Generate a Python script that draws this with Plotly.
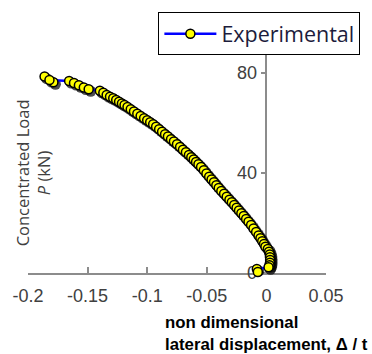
import plotly.graph_objects as go

# Load-displacement test record: non-dimensional lateral displacement (Δ/t) vs load P (kN)
disp = [
    -0.1861, -0.1787, -0.1820,
    -0.1655, -0.1614, -0.1573, -0.1532, -0.1491,
    -0.1397, -0.1368, -0.1340, -0.1312, -0.1285, -0.1260, -0.1236, -0.1212,
    -0.1190, -0.1165, -0.1138, -0.1111, -0.1083, -0.1055, -0.1026, -0.1000,
    -0.0975, -0.0950, -0.0925, -0.0900, -0.0875, -0.0850, -0.0826, -0.0800,
    -0.0776, -0.0750, -0.0724, -0.0700, -0.0675, -0.0650, -0.0630, -0.0610,
    -0.0590, -0.0570, -0.0548, -0.0525, -0.0503, -0.0480, -0.0460, -0.0440,
    -0.0420, -0.0400, -0.0378, -0.0355, -0.0333, -0.0310, -0.0290, -0.0270,
    -0.0250, -0.0230, -0.0210, -0.0190, -0.0170, -0.0150, -0.0128, -0.0108,
    -0.0086, -0.0066, -0.0050, -0.0035, -0.0020, -0.0008,
    0.0012, 0.0022, 0.0028, 0.0030, 0.0031, 0.0030, 0.0026, 0.0018,
    -0.0080, -0.0072, -0.0055,
]
load = [
    78.6, 76.3, 77.2,
    76.8, 76.0, 75.1, 74.2, 73.5,
    72.9, 72.1, 71.2, 70.5, 69.9, 69.2, 68.5, 67.8,
    67.2, 66.4, 65.5, 64.6, 63.7, 62.8, 61.9, 61.1,
    60.3, 59.5, 58.5, 57.5, 56.5, 55.5, 54.6, 53.5,
    52.6, 51.5, 50.4, 49.3, 48.3, 47.2, 46.3, 45.4,
    44.4, 43.5, 42.4, 41.1, 39.8, 38.5, 37.4, 36.3,
    35.1, 34.0, 32.8, 31.7, 30.5, 29.3, 28.3, 27.2,
    26.1, 25.0, 23.9, 22.8, 21.6, 20.5, 19.2, 17.8,
    16.4, 15.0, 13.9, 12.7, 11.6, 10.5,
    9.6, 8.5, 7.4, 6.3, 5.2, 4.1, 3.1, 2.3,
    1.6, 0.4, -0.4,
]

x_ticks = [-0.2, -0.15, -0.1, -0.05, 0, 0.05]
x_tick_text = ["-0.2", "-0.15", "-0.1", "-0.05", "0", "0.05"]
y_ticks = [0, 40, 80]
y_tick_text = ["0", "40", "80"]

X_RANGE = [-0.2, 0.05]
Y_RANGE = [0, 90]
# drop shadow under the markers: same data on a hidden pair of axes whose
# ranges are nudged so the points land ~2 px right and ~2 px lower
SHADOW_DX = 0.0017
SHADOW_DY = 0.8

axis_grey = "#8c8c8c"
tick_font = dict(family="Liberation Sans, Arial, sans-serif", size=18, color="#404040")

fig = go.Figure()
fig.add_trace(go.Scatter(
    x=disp, y=load,
    xaxis="x", yaxis="y",
    mode="markers",
    showlegend=False, hoverinfo="skip",
    marker=dict(symbol="circle", size=11, color="rgba(0,0,0,0.7)",
                line=dict(width=0)),
    cliponaxis=False,
))
fig.add_trace(go.Scatter(
    x=disp, y=load,
    xaxis="x2", yaxis="y2",
    mode="lines+markers",
    name="Experimental",
    line=dict(color="#0000ff", width=2.5),
    marker=dict(symbol="circle", size=9, color="#ffff00",
                line=dict(color="#000000", width=1.5)),
    cliponaxis=False,
))

fig.update_layout(
    width=372, height=354,
    margin=dict(l=25, r=43, t=46, b=81, pad=0),
    paper_bgcolor="white", plot_bgcolor="white",
    showlegend=True,
    legend=dict(
        x=0.4375, y=1.1586, xanchor="left", yanchor="top",
        bgcolor="white", bordercolor="#000000", borderwidth=1,
        font=dict(family="Open Sans, Noto Sans, sans-serif", size=21.5, color="#1c1c3c"),
        itemwidth=52,
    ),
    xaxis=dict(
        range=[X_RANGE[0] - SHADOW_DX, X_RANGE[1] - SHADOW_DX],
        visible=False, showgrid=False, zeroline=False,
    ),
    yaxis=dict(
        range=[Y_RANGE[0] + SHADOW_DY, Y_RANGE[1] + SHADOW_DY],
        visible=False, showgrid=False, zeroline=False,
    ),
    xaxis2=dict(
        range=X_RANGE, tickvals=x_ticks, ticktext=x_tick_text,
        overlaying="x", anchor="y2",
        showline=True, linecolor=axis_grey, linewidth=1.5,
        ticks="inside", ticklen=6, tickcolor=axis_grey, tickwidth=1.5,
        showgrid=False, zeroline=False, tickfont=tick_font,
        ticklabelstandoff=6, layer="below traces",
    ),
    yaxis2=dict(
        range=Y_RANGE, tickvals=y_ticks, ticktext=y_tick_text,
        overlaying="y", anchor="free", position=0.8,
        showline=True, linecolor=axis_grey, linewidth=1.5,
        ticks="outside", ticklen=5, tickcolor=axis_grey, tickwidth=1.5,
        showgrid=False, zeroline=False, tickfont=tick_font,
        layer="below traces",
    ),
    annotations=[
        dict(
            text="Concentrated Load<br><i>P</i> (kN)",
            xref="paper", yref="paper", x=0.015, y=0.445,
            xanchor="center", yanchor="middle", textangle=-90,
            showarrow=False,
            font=dict(family="Open Sans, Noto Sans, sans-serif", size=16.5, color="#404040"),
        ),
        dict(
            text="<b>non dimensional<br>lateral displacement, Δ / t</b>",
            xref="paper", yref="paper", x=0.452, y=-0.17,
            xanchor="left", yanchor="top", align="left",
            showarrow=False,
            font=dict(family="Liberation Sans, Arial, sans-serif", size=16.8, color="#000000"),
        ),
    ],
)

fig.write_html("out.html")
